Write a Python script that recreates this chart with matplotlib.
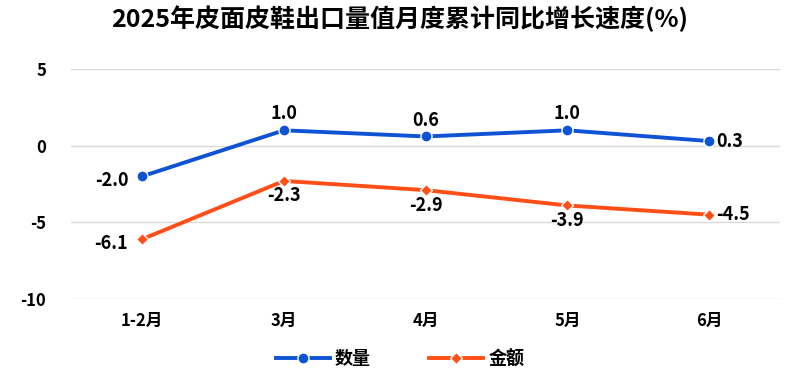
import matplotlib
matplotlib.use("Agg")
import matplotlib.pyplot as plt

plt.rcParams['font.family'] = ['Noto Sans CJK SC', 'DejaVu Sans']

categories = ['1-2月', '3月', '4月', '5月', '6月']
quantity = [-2.0, 1.0, 0.6, 1.0, 0.3]
amount = [-6.1, -2.3, -2.9, -3.9, -4.5]
yticks = [5, 0, -5, -10]

blue = '#0E53D3'
orange = '#FF4F17'

fig = plt.figure(figsize=(8, 3.79), dpi=100)
ax = fig.add_axes([0.089, 0.211, 0.886, 0.607])
x = list(range(len(categories)))

ax.plot(x, quantity, color=blue, lw=2.8, marker='o', ms=8, mec='white', mew=1, label='数量', zorder=3)
ax.plot(x, amount, color=orange, lw=2.8, marker='D', ms=6, mec='white', mew=1, label='金额', zorder=3)

ax.set_xlim(-0.5, len(categories) - 0.5)
ax.set_ylim(-10, 5)
ax.set_yticks(yticks)
ax.set_yticklabels([str(v) for v in yticks])
ax.set_xticks(x)
ax.set_xticklabels(categories)
ax.grid(axis='y', color='#D9D9D9', lw=1)
ax.set_axisbelow(True)
for s in ax.spines.values():
    s.set_visible(False)
ax.tick_params(length=0, labelsize=12, colors='#000000')
ax.tick_params(axis='x', pad=9)
ax.tick_params(axis='y', pad=18)
for lab in ax.get_xticklabels() + ax.get_yticklabels():
    lab.set_fontweight('bold')

fs = 13
for i, v in enumerate(quantity):
    if i == 0:
        ax.annotate(f'{v:.1f}', (i, v), xytext=(-10, -3), textcoords='offset points', ha='right', va='center', fontsize=fs, fontweight='bold')
    elif i == len(quantity) - 1:
        ax.annotate(f'{v:.1f}', (i, v), xytext=(5, 0), textcoords='offset points', ha='left', va='center', fontsize=fs, fontweight='bold')
    else:
        ax.annotate(f'{v:.1f}', (i, v), xytext=(0, 5), textcoords='offset points', ha='center', va='bottom', fontsize=fs, fontweight='bold')
for i, v in enumerate(amount):
    if i == 0:
        ax.annotate(f'{v:.1f}', (i, v), xytext=(-10, -3), textcoords='offset points', ha='right', va='center', fontsize=fs, fontweight='bold')
    elif i == len(amount) - 1:
        ax.annotate(f'{v:.1f}', (i, v), xytext=(5, 0), textcoords='offset points', ha='left', va='center', fontsize=fs, fontweight='bold')
    else:
        ax.annotate(f'{v:.1f}', (i, v), xytext=(0, -4), textcoords='offset points', ha='center', va='top', fontsize=fs, fontweight='bold')

fig.suptitle('2025年皮面皮鞋出口量值月度累计同比增长速度(%)', x=0.5, y=0.985, fontsize=18, fontweight='heavy')

leg = fig.legend(loc='lower center', bbox_to_anchor=(0.5, -0.015), ncol=2, frameon=False,
                 prop={'weight': 'bold', 'size': 13}, handlelength=3, columnspacing=3.2, handletextpad=0.3)

fig.savefig('out.png', dpi=100)
